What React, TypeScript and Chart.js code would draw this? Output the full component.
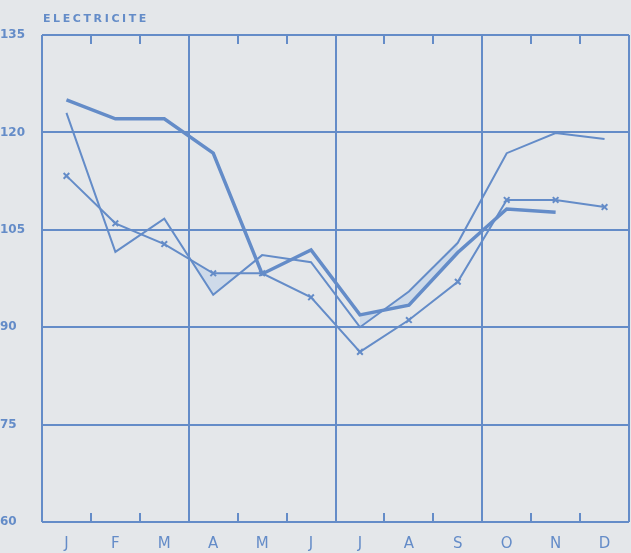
import React, { useEffect, useRef } from "react";
import { Chart, registerables } from "chart.js";

Chart.register(...registerables);

const months = ["J", "F", "M", "A", "M", "J", "J", "A", "S", "O", "N", "D"];
const yTickValues = [60, 75, 90, 105, 120, 135];
const titleText = "ELECTRICITE";

// thick line (no markers), Jan–Nov
const thickSeries = [125.0, 122.1, 122.1, 116.8, 98.2, 101.9, 91.9, 93.4, 101.5, 108.2, 107.7, null];
// thin line, Jan–Dec
const thinSeries = [123.0, 101.6, 106.7, 95.0, 101.1, 100.0, 90.0, 95.5, 103.0, 116.8, 119.9, 119.0];
// line with x markers, Jan–Dec
const crossSeries = [113.3, 106.0, 102.8, 98.3, 98.3, 94.6, 86.2, 91.1, 97.0, 109.6, 109.6, 108.5];

const LINE = "rgb(100,140,200)";
const FILL = "rgba(150,185,230,0.28)";
const BG = "#e4e7ea";

const pick = (arr: (number | null)[], a: number, b: number) =>
  arr.map((v, i) => (i >= a && i <= b ? v : null));

const framePlugin = {
  id: "frame",
  beforeDatasetsDraw(chart: any) {
    const { ctx, chartArea, scales } = chart;
    const { left, right, top, bottom } = chartArea;
    const x = scales.x;
    const y = scales.y;
    ctx.save();
    ctx.strokeStyle = LINE;
    ctx.lineWidth = 2;
    ctx.beginPath();
    yTickValues.forEach((v) => {
      const py = Math.round(y.getPixelForValue(v));
      ctx.moveTo(left, py);
      ctx.lineTo(right, py);
    });
    for (let i = 0; i <= months.length; i++) {
      let px: number;
      if (i === 0) px = left;
      else if (i === months.length) px = right;
      else px = (x.getPixelForValue(i - 1) + x.getPixelForValue(i)) / 2;
      px = Math.round(px);
      if (i % 3 === 0) {
        ctx.moveTo(px, top);
        ctx.lineTo(px, bottom);
      } else {
        ctx.moveTo(px, top);
        ctx.lineTo(px, top + 9);
        ctx.moveTo(px, bottom);
        ctx.lineTo(px, bottom - 9);
      }
    }
    ctx.stroke();
    ctx.restore();
  },
  afterDraw(chart: any) {
    const { ctx, chartArea } = chart;
    ctx.save();
    ctx.fillStyle = LINE;
    ctx.font = 'bold 11px "DejaVu Sans"';
    (ctx as any).letterSpacing = "2.6px";
    ctx.textBaseline = "middle";
    ctx.textAlign = "left";
    ctx.fillText(titleText, chartArea.left + 1, 19);
    ctx.restore();
  },
};

export default function App() {
  const ref = useRef<HTMLCanvasElement | null>(null);

  useEffect(() => {
    document.body.style.margin = "0";
    document.body.style.background = BG;
    if (!ref.current) return;
    const chart = new Chart(ref.current, {
      type: "line",
      data: {
        labels: months,
        datasets: [
          {
            data: thickSeries,
            borderColor: LINE,
            borderWidth: 3.5,
            pointRadius: 0,
            fill: false,
            tension: 0,
          },
          {
            data: thinSeries,
            borderColor: LINE,
            borderWidth: 2,
            pointRadius: 0,
            fill: false,
            tension: 0,
          },
          {
            data: crossSeries,
            borderColor: LINE,
            borderWidth: 2,
            pointStyle: "crossRot",
            pointRadius: 4,
            pointBorderWidth: 2,
            pointBorderColor: LINE,
            fill: false,
            tension: 0,
          },
          // fill helper: thin vs cross, spring dip
          {
            data: pick(thinSeries, 2, 4),
            borderWidth: 0,
            pointRadius: 0,
            fill: { target: "+1", above: "rgba(0,0,0,0)", below: FILL },
            tension: 0,
          },
          {
            data: pick(crossSeries, 2, 4),
            borderWidth: 0,
            pointRadius: 0,
            fill: false,
            tension: 0,
          },
          // fill helper: thick vs thin, summer
          {
            data: pick(thinSeries, 6, 8),
            borderWidth: 0,
            pointRadius: 0,
            fill: { target: "+1", above: FILL, below: FILL },
            tension: 0,
          },
          {
            data: pick(thickSeries, 6, 8),
            borderWidth: 0,
            pointRadius: 0,
            fill: false,
            tension: 0,
          },
        ],
      },
      options: {
        animation: false,
        responsive: false,
        layout: { autoPadding: false, padding: { top: 35, right: 2, left: 0, bottom: 0 } },
        plugins: {
          legend: { display: false },
          tooltip: { enabled: false },
          title: { display: false },
        },
        scales: {
          x: {
            offset: true,
            grid: { display: false },
            border: { display: false },
            ticks: {
              color: LINE,
              font: { family: "DejaVu Sans", size: 15 },
              padding: 5,
              maxRotation: 0,
              autoSkip: false,
            },
            afterFit: (s: any) => {
              s.height = 31;
              s.paddingLeft = 0;
              s.paddingRight = 0;
            },
          },
          y: {
            min: 60,
            max: 135,
            grid: { display: false },
            border: { display: false },
            afterBuildTicks: (s: any) => {
              s.ticks = yTickValues.map((v) => ({ value: v }));
            },
            ticks: {
              color: LINE,
              font: { family: "DejaVu Sans", size: 12, weight: "bold" },
              crossAlign: "far",
              padding: 4,
            },
            afterFit: (s: any) => {
              s.width = 42;
            },
          },
        },
      },
      plugins: [framePlugin],
    });
    return () => chart.destroy();
  }, []);

  return (
    <div style={{ width: 631, height: 553, background: BG }}>
      <canvas ref={ref} width={631} height={553} />
    </div>
  );
}
